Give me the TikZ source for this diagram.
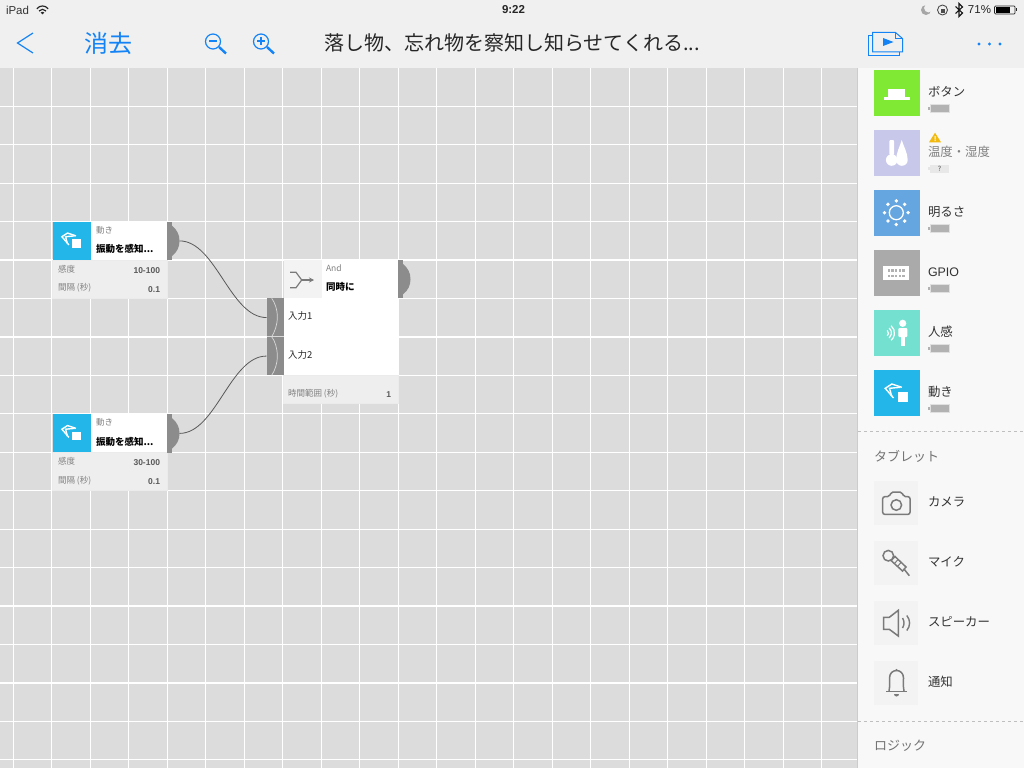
\documentclass[tikz,border=0pt]{standalone}
\usepackage{fontspec}
\setmainfont{Noto Sans CJK JP}
\newfontfamily\latinfont{Liberation Sans}
\usetikzlibrary{arrows.meta}

\definecolor{barbg}{HTML}{F0F0F0}
\definecolor{gridbg}{HTML}{DCDCDC}
\definecolor{sidebg}{HTML}{F8F8F8}
\definecolor{footbg}{HTML}{EEEEEE}
\definecolor{tabgray}{HTML}{8C8C8C}
\definecolor{linkblue}{HTML}{1383F5}
\definecolor{icongray}{HTML}{7A7A7A}
\definecolor{motioncyan}{HTML}{22B7E8}
\definecolor{warnyellow}{HTML}{F2B90F}

\tikzset{
    motionicon/.pic={
        \draw[white,line width=1.4pt] (5.3,-5.7) -- (-4.7,-9) -- (-11.3,-4.7) -- (-3,5);
        \draw[white,line width=1.4pt] (3.7,-5.7) -- (-7,-4.7) -- (-4.7,3.7);
        \fill[motioncyan] (-.5,-3) rectangle (13,10);
        \fill[white] (1,-1.5) rectangle (11.5,8.5);
    }
}

\begin{document}
\begin{tikzpicture}[x=1pt,y=-1pt]
        \tikzstyle{every node}=[inner sep=0pt,outer sep=0pt]

        \tikzstyle{tile}=[anchor=north west,minimum size=46pt]
        \tikzstyle{greytile}=[anchor=north west,minimum size=44pt,fill=footbg!70!white]
        \tikzstyle{sidetext}=[anchor=west,font=\fontsize{12.4}{14}\selectfont,text=black!80]
        \tikzstyle{headtext}=[anchor=west,font=\fontsize{13}{15}\selectfont,text=black!55]
        \tikzstyle{cardhead}=[anchor=west,font=\fontsize{8.5}{10}\selectfont,text=black!50]
        \tikzstyle{cardtitle}=[anchor=west,font=\fontsize{9.5}{11}\bfseries\selectfont,text=black]
        \tikzstyle{cardfield}=[anchor=west,font=\fontsize{8.5}{10}\selectfont,text=black!50]
        \tikzstyle{cardvalue}=[anchor=east,font=\fontsize{8.5}{10}\latinfont\bfseries\selectfont,text=black!65]
        \tikzstyle{inlabel}=[anchor=west,font=\fontsize{9.5}{11}\selectfont,text=black!85]
        \tikzstyle{tabbar}=[anchor=north west,fill=tabgray,minimum width=5pt,minimum height=38.4pt]
        \tikzstyle{inbar}=[anchor=north west,fill=tabgray,minimum width=17pt,minimum height=38.5pt]
        \tikzstyle{wire}=[draw=black!65,line width=.8pt]
        \tikzstyle{iconline}=[draw=icongray,line width=1.5pt]
        \tikzstyle{power}=[anchor=north west,fill=black!30,draw=black!12,line width=.8pt,minimum width=19pt,minimum height=8pt]
        \tikzstyle{rule}=[draw=black!25,dashed,line width=.7pt]

        \useasboundingbox (0,0) rectangle (1024,768);

        % canvas
        \fill[gridbg] (0,68) rectangle (1024,768);
        \foreach \x in {0,1,...,22} {
            \draw[white,line width=1.2pt] (13.3+38.5*\x,68) -- (13.3+38.5*\x,768);
        };
        \foreach \y in {0,1,...,17} {
            \draw[white,line width=1.2pt] (0,106.2+38.45*\y) -- (858,106.2+38.45*\y);
        };

        % top bar
        \fill[barbg] (0,0) rectangle (1024,68);
        \node[anchor=west,font=\fontsize{11.5}{13}\latinfont\selectfont,text=black!80] (ipad) at (6,10) {iPad};
        \node[font=\fontsize{11.5}{13}\latinfont\bfseries\selectfont,text=black!85] (clock) at (513.5,10) {9:22};
        \node[anchor=east,font=\fontsize{11.5}{13}\latinfont\selectfont,text=black!85] (percent) at (991,10) {71\%};
        \draw[black!85,line width=1.2pt] (36.8,8.8) .. controls (40,5) and (45,5) .. (48.2,8.8);
        \draw[black!85,line width=1.2pt] (39,11) .. controls (41,8.8) and (44,8.8) .. (46,11);
        \fill[black!85] (42.5,14.5) -- (40.6,12.6) .. controls (42,11.5) and (43,11.5) .. (44.4,12.6) -- cycle;

        \fill[black!35] (926,10) circle (5);
        \fill[barbg] (928.5,8) circle (4.4);
        \draw[black!70,line width=.9pt] (942.5,10) circle (5);
        \fill[black!70] (940.5,9) rectangle (945,13);
        \draw[black!90,line width=1.1pt] (955.5,6.5) -- (962.5,13) -- (959,16.5) -- (959,3.5) -- (962.5,7) -- (955.5,13.5);
        \draw[black!85,line width=.7pt,rounded corners=1pt] (994.5,6) rectangle (1015,14);
        \fill[black] (995.5,7) rectangle (1010,13);
        \fill[black!85] (1016,8.5) rectangle (1017,11.5);

        \draw[linkblue,line width=1.2pt] (33,33) -- (17.5,43) -- (33,53);
        \node[font=\fontsize{24}{26}\selectfont,text=linkblue] (erase) at (108,43) {消去};
        \node[font=\fontsize{20}{22}\selectfont,text=black!85] (title) at (512,43) {落し物、忘れ物を察知し知らせてくれる...};

        \draw[linkblue,line width=1.2pt] (213,41.5) circle (7.5);
        \draw[linkblue,line width=2.4pt] (219,47) -- (226,53.5);
        \draw[linkblue,line width=2pt] (209,41.5) -- (217,41.5);
        \draw[linkblue,line width=1.2pt] (261,41.5) circle (7.5);
        \draw[linkblue,line width=2.4pt] (267,47) -- (274,53.5);
        \draw[linkblue,line width=2pt] (257,41.5) -- (265,41.5) (261,37.5) -- (261,45.5);

        \draw[linkblue,line width=1pt] (872,35.5) -- (868.5,35.5) -- (868.5,56) -- (899,56) -- (899,52);
        \draw[linkblue,line width=1pt] (872.5,32.5) -- (895.5,32.5) -- (902.5,38.5) -- (902.5,52) -- (872.5,52) -- cycle;
        \draw[linkblue,line width=.8pt] (895.5,32.5) -- (895.5,38.5) -- (902.5,38.5);
        \fill[linkblue] (883,38) -- (893.5,42) -- (883,46) -- cycle;
        \foreach \x in {979,989.5,1000} {
            \fill[linkblue] (\x,44) circle (1.7);
        };

        % side panel
        \fill[sidebg] (858,68) rectangle (1024,768);
        \fill[black!20] (856.5,68) rectangle (858,768);

        \foreach \n/\y/\col/\txt in {button/70/80E934/ボタン,light/190/65A5E0/明るさ,gpio/250/AAAAAA/{\latinfont GPIO},human/310/74E0CF/人感,motion/370/22B7E8/動き} {
            \definecolor{tilecol}{HTML}{\col}
            \node[tile,fill=tilecol] (\n) at (873.5,\y) {};
            \node[sidetext] (\n_label) at (928,\y+22) {\txt};
            \fill[black!30] (928.2,\y+37) rectangle (930,\y+40);
            \node[power] (\n_power) at (930,\y+34.7) {};
        };
        \definecolor{tilecol}{HTML}{C8C8EA}
        \node[tile,fill=tilecol] (climate) at (873.5,130) {};
        \node[sidetext,text=black!50] (climate_label) at (928,152) {温度・湿度};
        \fill[black!10] (928.2,167) rectangle (930,170);
        \node[power,fill=black!9,draw=none,font=\fontsize{7}{8}\selectfont,text=black!70] (climate_power) at (930,164.7) {?};

        % tile icons
        \fill[white] (888,89) rectangle (905,97.3);
        \fill[white] (884.3,97.3) rectangle (910,100);

        \fill[white] (891.7,160) circle (5.8);
        \fill[white,rounded corners=1pt] (889.3,140) rectangle (894,155);
        \fill[white] (901.7,140) .. controls (903.5,146) and (907.7,153) .. (907.7,160) arc (0:180:5.8) .. controls (896.1,153) and (900,146) .. cycle;

        \draw[white,line width=1.3pt] (896.3,212.7) circle (7);
        \foreach \a in {0,45,...,315} {
            \fill[white] (896.3,212.7) ++(\a:11.8) circle (1.9);
        };

        \fill[white] (883.3,266) rectangle (909.3,280);
        \foreach \x in {0,1,...,4} {
            \foreach \y in {269,274.5} {
                \fill[black!30] (887.5+3.7*\x,\y) rectangle (890+3.7*\x,\y+2.5);
            };
        };

        \fill[white] (902.7,323.3) circle (3.6);
        \fill[white,rounded corners=1pt] (898.3,328) rectangle (907.3,337);
        \fill[white] (901,336) rectangle (905,345.7);
        \foreach \r in {3.5,6.5,9.5} {
            \draw[white,line width=1.2pt] (885,333) ++(-50:\r) arc (-50:50:\r);
        };

        \pic at (896.5,393) {motionicon};

        \fill[warnyellow] (935,132.7) -- (941,142.3) -- (929,142.3) -- cycle;
        \fill[white] (934.5,136) rectangle (935.5,139.5) (934.5,140) rectangle (935.5,141.2);

        % tablet section
        \draw[rule] (858,431) -- (1024,431);
        \node[headtext] (tablet) at (874,456) {タブレット};

        \foreach \n/\y/\txt in {camera/481/カメラ,mic/541/マイク,speaker/601/スピーカー,notice/661/通知} {
            \node[greytile] (\n) at (874,\y) {};
            \node[sidetext] (\n_label) at (928,\y+21) {\txt};
        };

        \draw[iconline,rounded corners=2pt] (882.7,496.7) -- (889.5,496.7) -- (891,492) -- (902,492) -- (903.5,496.7) -- (910,496.7) -- (910,514.3) -- (882.7,514.3) -- cycle;
        \draw[iconline] (896.3,505) circle (5.3);

        \draw[iconline] (888.3,555.7) circle (5.3);
        \draw[iconline] (891,560.5) -- (895,556.5) -- (906,567) -- (902.5,571) -- cycle;
        \draw[iconline] (904,569) -- (909.3,575.7);
        \draw[iconline,line width=1pt] (898,559.5) -- (894.5,563.5) (901,562.5) -- (897.5,566.5);

        \draw[iconline] (883.5,617.3) -- (889.3,617.3) -- (898.3,610.3) -- (898.3,636) -- (889.3,629.3) -- (883.5,629.3) -- cycle;
        \draw[iconline,line width=1.4pt] (902.5,618) .. controls (904.5,621) and (904.5,625) .. (902.5,628);
        \draw[iconline,line width=1.4pt] (906.8,615.5) .. controls (910.5,620) and (910.5,626) .. (906.8,630.5);

        \draw[iconline] (889,691) .. controls (890,686) and (889.5,682) .. (889.5,678) .. controls (889.5,668) and (903.5,668) .. (903.5,678) .. controls (903.5,682) and (903,686) .. (904,691);
        \draw[iconline] (886,691.7) -- (907.3,691.7);
        \fill[icongray] (896.5,670) circle (1.2);
        \fill[icongray] (899,694) arc (0:180:2.5) -- cycle;

        % logic section
        \draw[rule] (858,721) -- (1024,721);
        \node[headtext] (logic) at (874,746) {ロジック};

        % motion cards
        \foreach \n/\y/\range in {1/221.7/10-100,2/414.2/30-100} {
            \node[anchor=north west,fill=white,minimum width=114.5pt,minimum height=38.4pt] (head\n) at (52.5,\y) {};
            \node[anchor=north west,fill=motioncyan,minimum size=38.4pt] (icon\n) at (52.5,\y) {};
            \pic[scale=.85] at (71.5,\y+19) {motionicon};
            \node[anchor=north west,fill=footbg,draw=black!8,line width=.6pt,minimum width=114.5pt,minimum height=38pt] (foot\n) at (52.5,\y+38.4) {};
            \node[cardhead] (kind\n) at (96,\y+8.3) {動き};
            \node[cardtitle] (name\n) at (96,\y+27.3) {振動を感知...};
            \node[cardfield] (sense\n) at (58,\y+47.5) {感度};
            \node[cardvalue] (range\n) at (160,\y+48.5) {\range};
            \node[cardfield] (gap\n) at (58,\y+66.5) {間隔 (秒)};
            \node[cardvalue] (step\n) at (160,\y+67.5) {0.1};
            \node[tabbar] (tab\n) at (167,\y) {};
            \fill[tabgray] ([yshift=-4pt]tab\n.north east) .. controls (177,\y+8) and (179.5,\y+13) .. (179.5,\y+19.2) .. controls (179.5,\y+25.4) and (177,\y+30.4) .. ([yshift=4pt]tab\n.south east);
            \coordinate (out\n) at ([xshift=7.5pt]tab\n.east);
        };

        % and card
        \node[anchor=north west,fill=white,minimum width=114.5pt,minimum height=115pt] (andbody) at (283.5,260) {};
        \node[anchor=north west,fill=footbg!70!white,minimum size=38pt] (andicon) at (283.5,260) {};
        \node[anchor=north west,fill=footbg,draw=black!8,line width=.6pt,minimum width=114.5pt,minimum height=28pt] (andfoot) at (283.5,375) {};
        \draw[icongray,line width=1.2pt] (290,272.3) -- (296,272.3) -- (301.7,280) -- (296,287.7) -- (290,287.7);
        \draw[icongray,line width=1.2pt,-{Stealth[length=5pt,width=5pt]}] (301.7,280) -- (314,280);
        \node[cardhead] (andkind) at (326,268.5) {And};
        \node[cardtitle] (andname) at (326,287.3) {同時に};
        \node[inlabel] (andlabel1) at (288,316) {入力1};
        \node[inlabel] (andlabel2) at (288,354.5) {入力2};
        \node[cardfield] (andfield) at (288,394) {時間範囲 (秒)};
        \node[cardvalue] (andvalue) at (391,395) {1};

        \node[tabbar] (andtab) at (398,260) {};
        \fill[tabgray] ([yshift=-4pt]andtab.north east) .. controls (408,268) and (410.5,273) .. (410.5,279.2) .. controls (410.5,285.4) and (408,290.4) .. ([yshift=4pt]andtab.south east);

        \node[inbar] (in1) at (266.5,298.3) {};
        \node[inbar] (in2) at (266.5,336.8) {};
        \draw[white!85!black,line width=.7pt] (271.7,298.3) .. controls (275,303) and (277.3,309) .. (277.3,317) .. controls (277.3,325) and (275,331) .. (271.7,336.8) .. controls (275,341) and (277.3,348) .. (277.3,356) .. controls (277.3,364) and (275,370) .. (271.7,375.3);
        \draw[white!85!black,line width=.7pt] (266.5,336.8) -- (283.5,336.8);

        % links
        \draw[wire] (out1) to[out=0,in=180,looseness=.8] (in1.west);
        \draw[wire] (out2) to[out=0,in=180,looseness=.8] (in2.west);
\end{tikzpicture}
\end{document}
